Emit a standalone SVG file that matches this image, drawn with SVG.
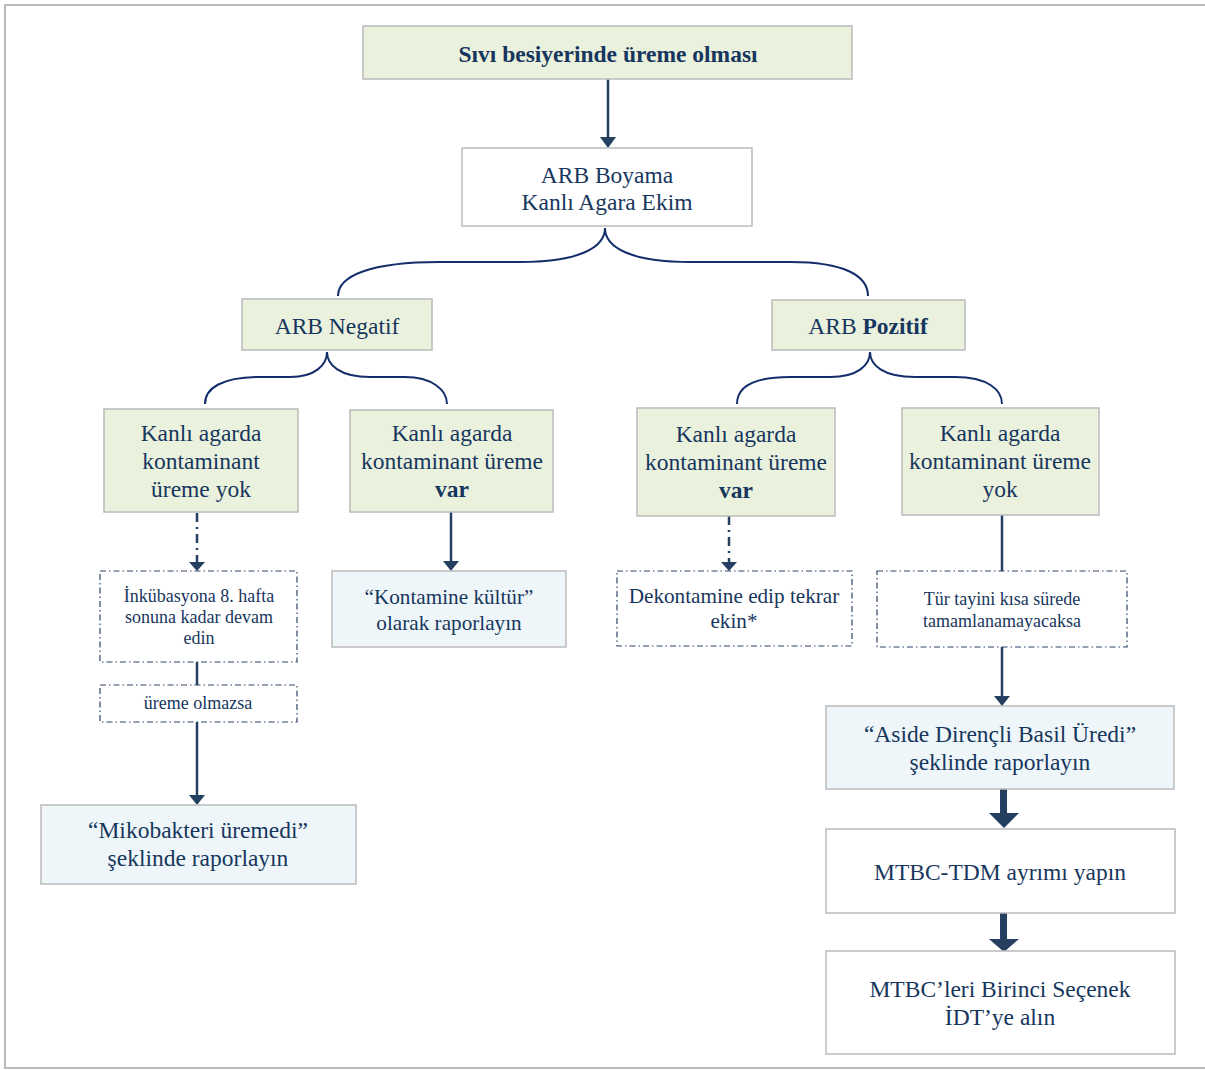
<svg xmlns="http://www.w3.org/2000/svg" width="1205" height="1070" viewBox="0 0 1205 1070">
<defs>
<style>
.t{font-family:"Liberation Serif","Times New Roman",serif;fill:#17365D;text-anchor:middle;}
.s21{font-size:23.5px;}
.s19{font-size:21.2px;}
.s15{font-size:18px;}
.b{font-weight:bold;}
.g{fill:#EAF1DD;stroke:#BBBBBB;stroke-width:1.5;}
.w{fill:#FFFFFF;stroke:#BBBBBB;stroke-width:1.5;}
.lb{fill:#EEF6F9;stroke:#BBBBBB;stroke-width:1.5;}
.d{fill:#FFFFFF;stroke:#2E4468;stroke-width:1.2;stroke-dasharray:6 3 1.5 3;}
.c{stroke:#243F60;stroke-width:2.5;fill:none;}
.cd{stroke:#243F60;stroke-width:2.5;fill:none;stroke-dasharray:9 5 2 5;}
.br{stroke:#132E6B;stroke-width:2;fill:none;}
.hd{fill:#243F60;}
</style>
</defs>
<rect x="5" y="5" width="1215" height="1063" fill="#FFFFFF" stroke="#BBBBBB" stroke-width="2"/>

<g id="connectors">
<line class="c" x1="608" y1="79" x2="608" y2="138"/><path class="hd" d="M600,137 L616,137 L608,148 Z"/>
<path class="br" d="M338,296 C338,276 370,262 440,262 L520,262 C578,262 605,248 605,228"/>
<path class="br" d="M605,228 C605,248 632,262 690,262 L790,262 C845,262 868,276 868,296"/>
<path class="br" d="M205,404 C205,388 222,377 260,377 L290,377 C315,377 327,365 327,352"/>
<path class="br" d="M327,352 C327,365 340,377 370,377 L405,377 C432,377 447,390 447,404"/>
<path class="br" d="M737,404 C737,388 752,377 790,377 L830,377 C858,377 870,365 870,352"/>
<path class="br" d="M870,352 C870,365 883,377 915,377 L955,377 C988,377 1002,390 1002,404"/>
<line class="cd" x1="197" y1="513" x2="197" y2="562"/><path class="hd" d="M189,562 L205,562 L197,571 Z"/>
<line class="c" x1="197" y1="662" x2="197" y2="685"/>
<line class="c" x1="197" y1="722" x2="197" y2="796"/><path class="hd" d="M189,795 L205,795 L197,805 Z"/>
<line class="c" x1="451" y1="512" x2="451" y2="562"/><path class="hd" d="M443,561 L459,561 L451,571 Z"/>
<line class="cd" x1="729" y1="516" x2="729" y2="562"/><path class="hd" d="M721,562 L737,562 L729,571 Z"/>
<line class="c" x1="1002" y1="515" x2="1002" y2="571"/>
<line class="c" x1="1002" y1="647" x2="1002" y2="697"/><path class="hd" d="M994,696 L1010,696 L1002,706 Z"/>
<rect class="hd" x="1000" y="789" width="7" height="25"/><path class="hd" d="M989,813 L1019,813 L1004,828 Z"/>
<rect class="hd" x="1000" y="913" width="7" height="27"/><path class="hd" d="M989,939 L1019,939 L1004,952 Z"/>
</g>

<g id="n1"><rect class="g" x="363" y="26" width="489" height="53"/><text class="t b" x="608" y="62" font-size="23.5">Sıvı besiyerinde üreme olması</text></g>
<g id="n2"><rect class="w" x="462" y="148" width="290" height="78"/><text class="t s21" x="607" y="183">ARB Boyama</text><text class="t s21" x="607" y="210">Kanlı Agara Ekim</text></g>
<g id="n3"><rect class="g" x="242" y="299" width="190" height="51"/><text class="t s21" x="337" y="334">ARB Negatif</text></g>
<g id="n4"><rect class="g" x="772" y="300" width="193" height="50"/><text class="t s21" x="868" y="334">ARB <tspan class="b">Pozitif</tspan></text></g>
<g id="n5"><rect class="g" x="104" y="409" width="194" height="103"/><text class="t s21" x="201" y="441">Kanlı agarda</text><text class="t s21" x="201" y="469">kontaminant</text><text class="t s21" x="201" y="497">üreme yok</text></g>
<g id="n6"><rect class="g" x="350" y="410" width="203" height="102"/><text class="t s21" x="452" y="441">Kanlı agarda</text><text class="t s21" x="452" y="469">kontaminant üreme</text><text class="t s21 b" x="452" y="497">var</text></g>
<g id="n7"><rect class="g" x="637" y="408" width="198" height="108"/><text class="t s21" x="736" y="442">Kanlı agarda</text><text class="t s21" x="736" y="470">kontaminant üreme</text><text class="t s21 b" x="736" y="498">var</text></g>
<g id="n8"><rect class="g" x="902" y="408" width="197" height="107"/><text class="t s21" x="1000" y="441">Kanlı agarda</text><text class="t s21" x="1000" y="469">kontaminant üreme</text><text class="t s21" x="1000" y="497">yok</text></g>
<g id="n9"><rect class="d" x="100" y="571" width="197" height="91"/><text class="t s15" x="199" y="602">İnkübasyona 8. hafta</text><text class="t s15" x="199" y="623">sonuna kadar devam</text><text class="t s15" x="199" y="644">edin</text></g>
<g id="n10"><rect class="d" x="100" y="685" width="197" height="37"/><text class="t s15" x="198" y="709">üreme olmazsa</text></g>
<g id="n11"><rect class="lb" x="41" y="805" width="315" height="79"/><text class="t s21" x="198" y="838">“Mikobakteri üremedi”</text><text class="t s21" x="198" y="866">şeklinde raporlayın</text></g>
<g id="n12"><rect class="lb" x="332" y="571" width="234" height="76"/><text class="t s19" x="449" y="604">“Kontamine kültür”</text><text class="t s19" x="449" y="630">olarak raporlayın</text></g>
<g id="n13"><rect class="d" x="617" y="571" width="235" height="75"/><text class="t s19" x="734" y="603">Dekontamine edip tekrar</text><text class="t s19" x="734" y="628">ekin*</text></g>
<g id="n14"><rect class="d" x="877" y="571" width="250" height="76"/><text class="t s15" x="1002" y="605">Tür tayini kısa sürede</text><text class="t s15" x="1002" y="627">tamamlanamayacaksa</text></g>
<g id="n15"><rect class="lb" x="826" y="706" width="348" height="83"/><text class="t s21" x="1000" y="742">“Aside Dirençli Basil Üredi”</text><text class="t s21" x="1000" y="770">şeklinde raporlayın</text></g>
<g id="n16"><rect class="w" x="826" y="829" width="349" height="84"/><text class="t s21" x="1000" y="880">MTBC-TDM ayrımı yapın</text></g>
<g id="n17"><rect class="w" x="826" y="951" width="349" height="103"/><text class="t s21" x="1000" y="997">MTBC’leri Birinci Seçenek</text><text class="t s21" x="1000" y="1025">İDT’ye alın</text></g>
</svg>
